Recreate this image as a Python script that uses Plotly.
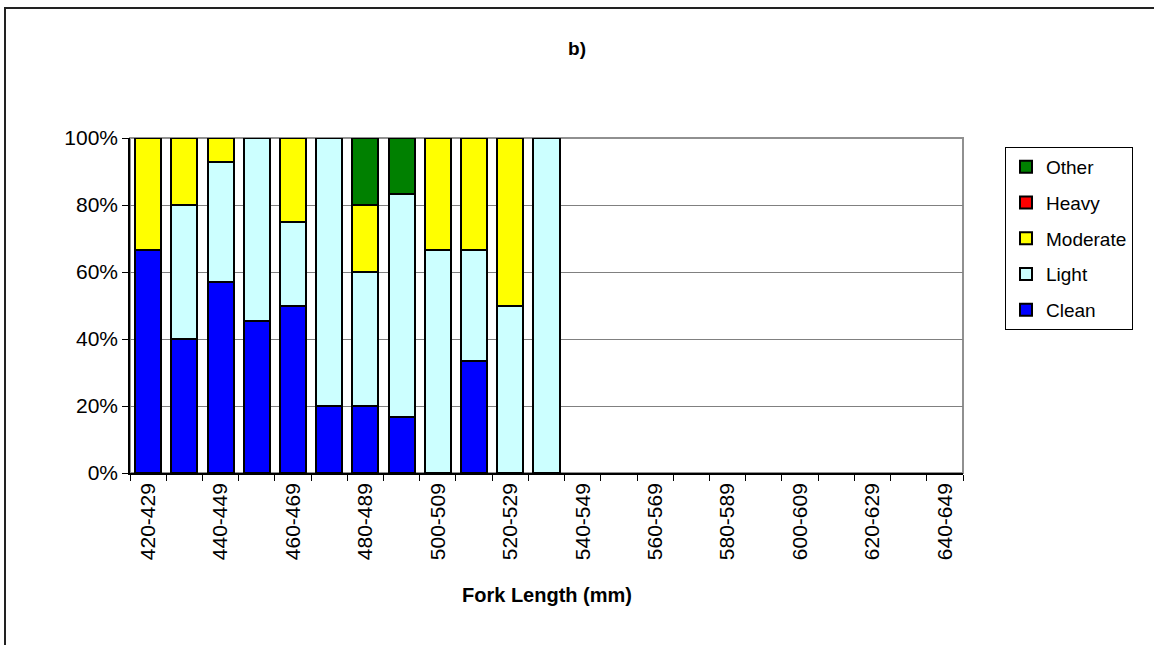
import plotly.graph_objects as go

# fork length classes (mm)
categories = ["420-429", "430-439", "440-449", "450-459", "460-469", "470-479",
              "480-489", "490-499", "500-509", "510-519", "520-529", "530-539",
              "540-549", "550-559", "560-569", "570-579", "580-589", "590-599",
              "600-609", "610-619", "620-629", "630-639", "640-649"]

tick_labels = ["420-429", "", "440-449", "", "460-469", "", "480-489", "",
               "500-509", "", "520-529", "", "540-549", "", "560-569", "",
               "580-589", "", "600-609", "", "620-629", "", "640-649"]

y_ticks = [0, 20, 40, 60, 80, 100]
y_labels = ["0%", "20%", "40%", "60%", "80%", "100%"]

# percent of fish in each class (only the first 12 classes have fish)
clean    = [66.7, 40.0, 57.1, 45.5, 50.0, 20.0, 20.0, 16.7, 0.0, 33.3, 0.0, 0.0]
light    = [0.0, 40.0, 35.8, 54.5, 25.0, 80.0, 40.0, 66.6, 66.7, 33.4, 50.0, 100.0]
moderate = [33.3, 20.0, 7.1, 0.0, 25.0, 0.0, 20.0, 0.0, 33.3, 33.3, 50.0, 0.0]
heavy    = [0.0, 0.0, 0.0, 0.0, 0.0, 0.0, 0.0, 0.0, 0.0, 0.0, 0.0, 0.0]
other    = [0.0, 0.0, 0.0, 0.0, 0.0, 0.0, 20.0, 16.7, 0.0, 0.0, 0.0, 0.0]

series = [
    ("Clean", clean, "#0000FF"),
    ("Light", light, "#CCFFFF"),
    ("Moderate", moderate, "#FFFF00"),
    ("Heavy", heavy, "#FF0000"),
    ("Other", other, "#008000"),
]

fig = go.Figure()
for i, (name, vals, col) in enumerate(series):
    fig.add_trace(go.Bar(
        x=categories[:len(vals)], y=vals, name=name, legendgroup=name,
        legendrank=1000 - i,  # Excel lists the top of the stack first
        marker=dict(color=col, line=dict(color="black", width=2)),
    ))

font = "Liberation Sans, Arial, sans-serif"

fig.update_layout(
    barmode="stack",
    bargap=0.28,
    width=1154, height=645,
    margin=dict(l=130, r=191, t=138, b=172, pad=0),
    plot_bgcolor="white",
    paper_bgcolor="white",
    font=dict(family=font, size=20, color="black"),
    showlegend=True,
    title=dict(text="<b>b)</b>", x=0.5, xref="container", xanchor="center",
               y=1 - 48 / 645, yref="container", yanchor="middle",
               font=dict(family=font, size=19, color="black")),
    legend=dict(
        x=(1005 - 130) / 833, y=(473 - 147) / 335, xanchor="left", yanchor="top",
        traceorder="grouped", tracegroupgap=8,
        bordercolor="black", borderwidth=1, bgcolor="white",
        font=dict(family=font, size=19, color="black"),
    ),
)

fig.update_xaxes(
    type="category", categoryorder="array", categoryarray=categories,
    range=[-0.5, len(categories) - 0.5],
    tickmode="array", tickvals=categories, ticktext=tick_labels,
    tickangle=-90, tickson="boundaries", ticks="outside", ticklen=6,
    tickcolor="black", showline=True, linecolor="black", linewidth=1.5,
    showgrid=False, tickfont=dict(size=21),
)

fig.update_yaxes(
    range=[0, 100], tickmode="array", tickvals=y_ticks, ticktext=y_labels,
    ticks="outside", ticklen=6, tickcolor="black",
    showline=True, linecolor="black", linewidth=1.5,
    showgrid=True, gridcolor="#808080", gridwidth=1, zeroline=False,
    tickfont=dict(size=21),
)

# grey frame around the plot area
fig.add_shape(type="rect", xref="paper", yref="paper", x0=0, y0=0, x1=1, y1=1,
              line=dict(color="#909090", width=2), layer="below")

# outer chart border
fig.add_shape(type="rect", xref="paper", yref="paper",
              x0=(5 - 130) / 833, y0=(473 - 660) / 335,
              x1=(1170 - 130) / 833, y1=(473 - 8) / 335,
              line=dict(color="#222222", width=2))

fig.add_annotation(text="<b>Fork Length (mm)</b>", xref="paper", yref="paper",
                   x=0.5, y=(473 - 595) / 335,
                   xanchor="center", yanchor="middle", showarrow=False,
                   font=dict(family=font, size=20, color="black"))

fig.write_html("out.html", config={"displayModeBar": False},
               post_script="document.body.style.margin='0';")
